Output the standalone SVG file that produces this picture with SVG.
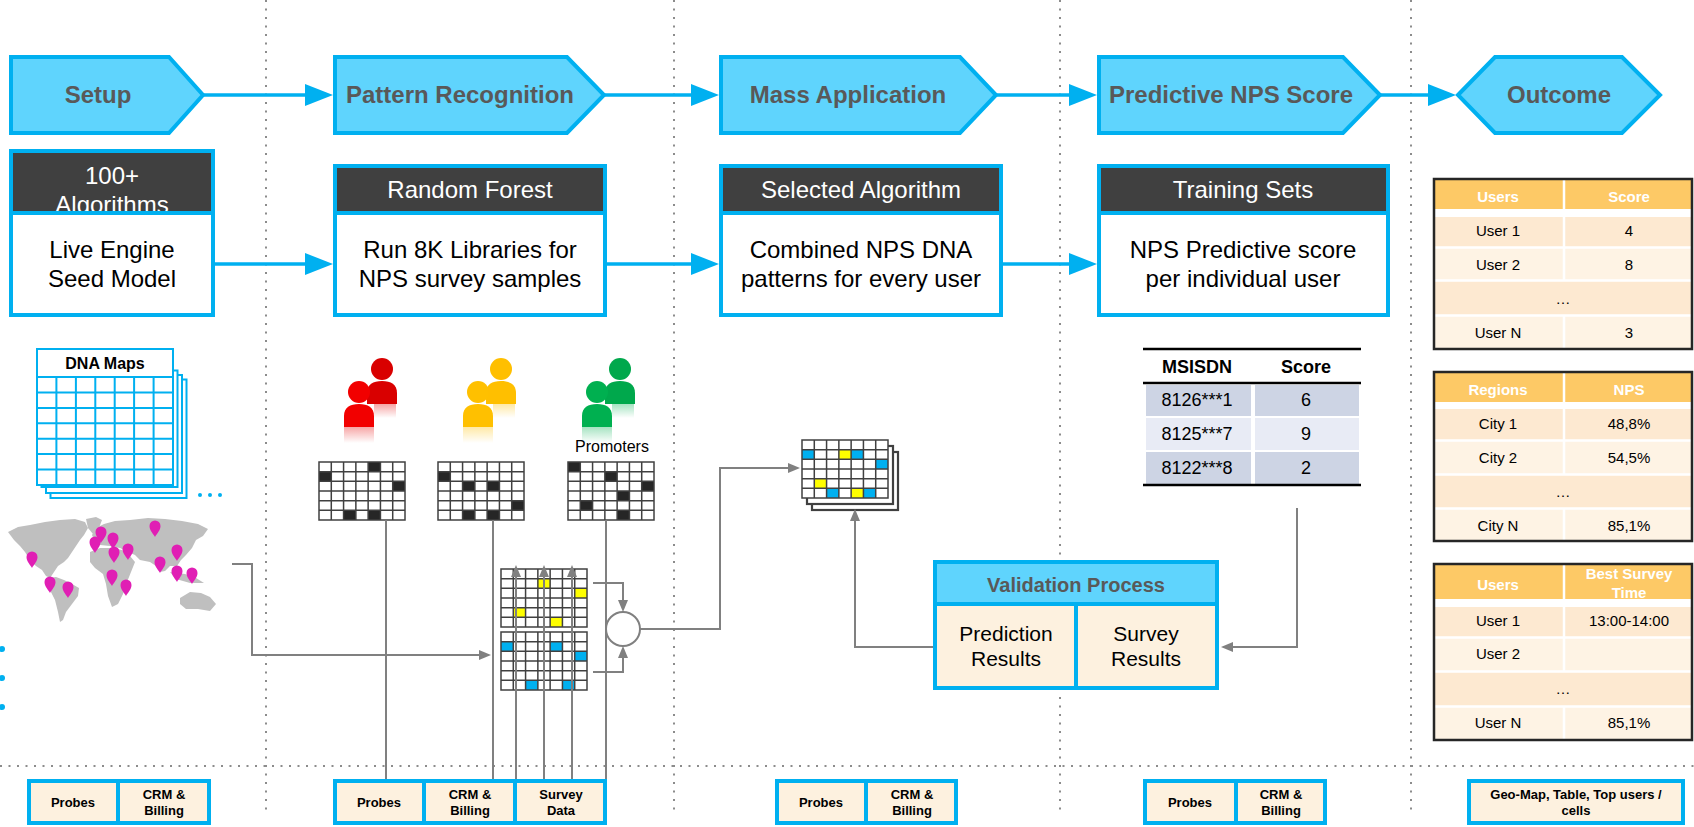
<svg xmlns="http://www.w3.org/2000/svg" width="1694" height="827" viewBox="0 0 1694 827">
<style>
text{font-family:"Liberation Sans",Arial,Helvetica,sans-serif}
.stage{fill:#5fd4fd;stroke:#00b0f0;stroke-width:4}
.stage-t{font-size:24px;font-weight:bold;fill:#595959;text-anchor:middle}
.box{fill:#fff;stroke:#00b0f0;stroke-width:4}
.hdr{fill:#404040}
.sep{stroke:#00b0f0;stroke-width:4}
.hdr-t{font-size:24px;fill:#fff;text-anchor:middle}
.body-t{font-size:24px;fill:#000;text-anchor:middle}
.flow{stroke:#00b0f0;stroke-width:3.5;fill:none}
.dot{stroke:#8c8c8c;stroke-width:2;stroke-dasharray:2 6.5;fill:none}
.wire{stroke:#808080;stroke-width:2;fill:none}
.src{fill:#fdf1df;stroke:#00b0f0;stroke-width:4}
.src-t{font-size:13px;font-weight:bold;fill:#000;text-anchor:middle}
.gl{stroke:#404040;stroke-width:1.5;fill:none}
.gb{stroke:#404040;stroke-width:2.2;fill:#fff}
.blk{fill:#262626}
.yel{fill:#ffff00}
.cyn{fill:#00b0f0}
.dna{stroke:#00b0f0;stroke-width:2;fill:#fff}
.dnal{stroke:#00b0f0;stroke-width:2;fill:none}
.t-hd{fill:#fdc966}
.t-a{fill:#fde9d1}
.t-b{fill:#fef3e4}
.t-div{stroke:#fff;stroke-width:2.5}
.t-frame{fill:none;stroke:#262626;stroke-width:2.5}
.t-ht{font-size:15px;font-weight:bold;fill:#fff;text-anchor:middle}
.t-c{font-size:15px;fill:#000;text-anchor:middle}
.ms-h{font-size:18px;font-weight:bold;fill:#000;text-anchor:middle}
.ms-c{font-size:18px;fill:#000;text-anchor:middle}
.ms-rule{stroke:#000;stroke-width:2.5}
.land{fill:#bfbfbf}
.pin{fill:#e01fb4}
</style>
<defs>
  <marker id="bigArrow" viewBox="0 0 28 22" markerWidth="28" markerHeight="22" refX="14" refY="11" markerUnits="userSpaceOnUse" orient="auto">
    <path d="M0,0 L28,11 L0,22 Z" fill="#00b0f0"/>
  </marker>
  <marker id="smallArrow" viewBox="0 0 12 10" markerWidth="12" markerHeight="10" refX="6" refY="5" markerUnits="userSpaceOnUse" orient="auto">
    <path d="M0,0 L12,5 L0,10 Z" fill="#808080"/>
  </marker>
  <!-- 7 x 6 cell grid, 86 x 58 -->
  <g id="gridLines">
    <path class="gl" d="M12.29,0V58M24.57,0V58M36.86,0V58M49.14,0V58M61.43,0V58M73.71,0V58M0,9.67H86M0,19.33H86M0,29H86M0,38.67H86M0,48.33H86"/>
    <rect class="gl" x="0" y="0" width="86" height="58" stroke-width="2.2"/>
  </g>
  <rect id="cell" width="12.29" height="9.67"/>
  <g id="person">
    <ellipse cx="0" cy="0" rx="11" ry="11"/>
    <path d="M-15,35 V24 C-15,15.5 -9,12 0,12 C9,12 15,15.5 15,24 V35 Z"/>
  </g>
  <path id="pinShape" d="M0,11 C-1.5,8 -5.5,4.5 -5.5,0 A5.5,5.5 0 1 1 5.5,0 C5.5,4.5 1.5,8 0,11 Z"/>
  <linearGradient id="fadeRed" x1="0" y1="0" x2="0" y2="1"><stop offset="0" stop-color="#e60000" stop-opacity="0.35"/><stop offset="1" stop-color="#e60000" stop-opacity="0"/></linearGradient>
  <linearGradient id="fadeYellow" x1="0" y1="0" x2="0" y2="1"><stop offset="0" stop-color="#ffc000" stop-opacity="0.35"/><stop offset="1" stop-color="#ffc000" stop-opacity="0"/></linearGradient>
  <linearGradient id="fadeGreen" x1="0" y1="0" x2="0" y2="1"><stop offset="0" stop-color="#00b050" stop-opacity="0.35"/><stop offset="1" stop-color="#00b050" stop-opacity="0"/></linearGradient>
  <clipPath id="clipAlgo"><rect x="13" y="153" width="198" height="58"/></clipPath>
  <clipPath id="clipTime"><rect x="1566" y="564" width="126" height="35"/></clipPath>
</defs>

<rect width="1694" height="827" fill="#fff"/>

<!-- lane separators -->
<g id="lanes">
  <path class="dot" d="M266,0V810M674,0V810M1060,0V555M1060,697V810M1411,0V810"/>
  <path class="dot" d="M0,766H1694"/>
</g>

<!-- stage banners -->
<g id="stage-setup"><polygon class="stage" points="11,57 169,57 203,95 169,133 11,133"/><text class="stage-t" x="98" y="103">Setup</text></g>
<g id="stage-pattern"><polygon class="stage" points="335,57 567,57 604,95 567,133 335,133"/><text class="stage-t" x="460" y="103">Pattern Recognition</text></g>
<g id="stage-mass"><polygon class="stage" points="721,57 960,57 996,95 960,133 721,133"/><text class="stage-t" x="848" y="103">Mass Application</text></g>
<g id="stage-predictive"><polygon class="stage" points="1099,57 1343,57 1380,95 1343,133 1099,133"/><text class="stage-t" x="1231" y="103">Predictive NPS Score</text></g>
<g id="stage-outcome"><polygon class="stage" points="1458,95 1495,57 1622,57 1660,95 1622,133 1495,133"/><text class="stage-t" x="1559" y="103">Outcome</text></g>

<!-- step boxes -->
<g id="box-seed">
  <rect class="box" x="11" y="151" width="202" height="164"/>
  <rect class="hdr" x="13" y="153" width="198" height="58"/>
  <g clip-path="url(#clipAlgo)"><text class="hdr-t" x="112" y="184" font-size="22">100+</text><text class="hdr-t" x="112" y="213" font-size="22">Algorithms</text></g>
  <line class="sep" x1="11" y1="213" x2="213" y2="213"/>
  <text class="body-t" x="112" y="258">Live Engine</text>
  <text class="body-t" x="112" y="287">Seed Model</text>
</g>
<g id="box-forest">
  <rect class="box" x="335" y="166" width="270" height="149"/>
  <rect class="hdr" x="337" y="168" width="266" height="43"/>
  <line class="sep" x1="335" y1="213" x2="605" y2="213"/>
  <text class="hdr-t" x="470" y="198">Random Forest</text>
  <text class="body-t" x="470" y="258">Run 8K Libraries for</text>
  <text class="body-t" x="470" y="287">NPS survey samples</text>
</g>
<g id="box-selected">
  <rect class="box" x="721" y="166" width="280" height="149"/>
  <rect class="hdr" x="723" y="168" width="276" height="43"/>
  <line class="sep" x1="721" y1="213" x2="1001" y2="213"/>
  <text class="hdr-t" x="861" y="198">Selected Algorithm</text>
  <text class="body-t" x="861" y="258">Combined NPS DNA</text>
  <text class="body-t" x="861" y="287">patterns for every user</text>
</g>
<g id="box-training">
  <rect class="box" x="1099" y="166" width="289" height="149"/>
  <rect class="hdr" x="1101" y="168" width="285" height="43"/>
  <line class="sep" x1="1099" y1="213" x2="1388" y2="213"/>
  <text class="hdr-t" x="1243" y="198">Training Sets</text>
  <text class="body-t" x="1243" y="258">NPS Predictive score</text>
  <text class="body-t" x="1243" y="287">per individual user</text>
</g>

<!-- DNA maps stack -->
<g id="dna-maps">
  <rect class="dna" x="50.5" y="379.5" width="136" height="118.5"/>
  <rect class="dna" x="46" y="375" width="136" height="118"/>
  <rect class="dna" x="41.5" y="370.5" width="136" height="116.5"/>
  <rect class="dna" x="37" y="349" width="136" height="136"/>
  <line class="dnal" x1="37" y1="377" x2="173" y2="377"/>
  <path class="dnal" d="M56.4,377V485M75.9,377V485M95.3,377V485M114.7,377V485M134.1,377V485M153.6,377V485M37,392.4H173M37,407.9H173M37,423.3H173M37,438.7H173M37,454.1H173M37,469.6H173"/>
  <text x="105" y="369" font-size="16" font-weight="bold" text-anchor="middle">DNA Maps</text>
  <circle cx="200" cy="495" r="2" fill="#00b0f0"/>
  <circle cx="210" cy="495" r="2" fill="#00b0f0"/>
  <circle cx="220" cy="495" r="2" fill="#00b0f0"/>
</g>

<!-- world map with site pins -->
<g id="world-map">
  <path class="land" d="M8,532 L18,527 L30,525 L45,522 L60,520 L75,519 L85,522 L88,528 L84,535 L80,540 L76,546 L72,552 L68,558 L64,562 L58,566 L54,572 L50,578 L46,576 L42,570 L36,566 L30,560 L25,552 L20,546 L14,540 Z"/>
  <path class="land" d="M86,519 L96,517 L102,520 L99,528 L93,534 L88,528 Z"/>
  <path class="land" d="M48,578 L56,577 L64,580 L72,584 L79,588 L78,596 L72,604 L66,612 L63,620 L60,622 L58,612 L55,600 L50,590 Z"/>
  <path class="land" d="M92,535 L96,528 L104,524 L115,521 L130,520 L148,518 L165,519 L182,521 L198,524 L208,529 L203,536 L196,540 L192,548 L186,555 L181,560 L177,566 L170,566 L165,571 L160,572 L156,566 L150,562 L140,560 L135,555 L128,552 L120,548 L110,546 L100,545 L95,542 Z"/>
  <path class="land" d="M90,552 L100,548 L112,548 L122,550 L130,556 L135,562 L131,572 L127,582 L123,594 L118,604 L112,607 L108,596 L106,584 L103,574 L95,568 L90,562 Z"/>
  <path class="land" d="M170,572 L185,574 L196,578 L204,583 L190,583 L176,579 Z"/>
  <path class="land" d="M180,598 L190,592 L201,593 L210,597 L216,604 L210,611 L198,609 L186,609 L180,604 Z"/>
  <g class="pin">
    <use href="#pinShape" x="32" y="557"/><use href="#pinShape" x="50" y="582"/><use href="#pinShape" x="68" y="587"/>
    <use href="#pinShape" x="101" y="532"/><use href="#pinShape" x="95" y="542"/><use href="#pinShape" x="113" y="538"/>
    <use href="#pinShape" x="114" y="552"/><use href="#pinShape" x="128" y="549"/><use href="#pinShape" x="112" y="575"/>
    <use href="#pinShape" x="126" y="585"/><use href="#pinShape" x="155" y="526"/><use href="#pinShape" x="177" y="550"/>
    <use href="#pinShape" x="160" y="562"/><use href="#pinShape" x="177" y="571"/><use href="#pinShape" x="192" y="573"/>
  </g>
  <circle cx="2" cy="649" r="3" fill="#00b0f0"/>
  <circle cx="2" cy="678" r="3" fill="#00b0f0"/>
  <circle cx="2" cy="707" r="3" fill="#00b0f0"/>
</g>

<!-- customer groups -->
<g id="group-detractors">
  <use href="#person" x="382" y="369" fill="#d90000"/>
  <use href="#person" x="359" y="392" fill="#f20000"/>
  <rect x="344" y="427" width="30" height="16" fill="url(#fadeRed)"/>
  <rect x="374" y="404" width="22" height="14" fill="url(#fadeRed)"/>
</g>
<g id="group-passives">
  <use href="#person" x="501" y="369" fill="#ffbf00"/>
  <use href="#person" x="478" y="392" fill="#ffc000"/>
  <rect x="463" y="427" width="30" height="16" fill="url(#fadeYellow)"/>
  <rect x="493" y="404" width="22" height="14" fill="url(#fadeYellow)"/>
</g>
<g id="group-promoters">
  <use href="#person" x="620" y="369" fill="#00a84c"/>
  <use href="#person" x="597" y="392" fill="#00b050"/>
  <rect x="582" y="427" width="30" height="16" fill="url(#fadeGreen)"/>
  <rect x="612" y="404" width="22" height="14" fill="url(#fadeGreen)"/>
  <text x="612" y="452" font-size="16" text-anchor="middle">Promoters</text>
</g>

<!-- segment patterns -->
<g id="grid-detractors" transform="translate(319,462)">
  <rect width="86" height="58" fill="#fff"/>
  <g class="blk"><use href="#cell" x="49.14" y="0"/><use href="#cell" x="0" y="9.67"/><use href="#cell" x="73.71" y="19.33"/><use href="#cell" x="24.57" y="48.33"/><use href="#cell" x="49.14" y="48.33"/></g>
  <use href="#gridLines"/>
</g>
<g id="grid-passives" transform="translate(438,462)">
  <rect width="86" height="58" fill="#fff"/>
  <g class="blk"><use href="#cell" x="0" y="9.67"/><use href="#cell" x="24.57" y="19.33"/><use href="#cell" x="49.14" y="19.33"/><use href="#cell" x="73.71" y="38.67"/><use href="#cell" x="24.57" y="48.33"/><use href="#cell" x="49.14" y="48.33"/></g>
  <use href="#gridLines"/>
</g>
<g id="grid-promoters" transform="translate(568,462)">
  <rect width="86" height="58" fill="#fff"/>
  <g class="blk"><use href="#cell" x="0" y="0"/><use href="#cell" x="36.86" y="9.67"/><use href="#cell" x="73.71" y="19.33"/><use href="#cell" x="49.14" y="29"/><use href="#cell" x="12.29" y="38.67"/><use href="#cell" x="49.14" y="48.33"/></g>
  <use href="#gridLines"/>
</g>
<g id="grid-upper" transform="translate(501,569)">
  <rect width="86" height="58" fill="#fff"/>
  <g class="yel"><use href="#cell" x="36.86" y="9.67"/><use href="#cell" x="73.71" y="19.33"/><use href="#cell" x="12.29" y="38.67"/><use href="#cell" x="49.14" y="48.33"/></g>
  <use href="#gridLines"/>
</g>
<g id="grid-lower" transform="translate(501,632)">
  <rect width="86" height="58" fill="#fff"/>
  <g class="cyn"><use href="#cell" x="0" y="9.67"/><use href="#cell" x="49.14" y="9.67"/><use href="#cell" x="73.71" y="19.33"/><use href="#cell" x="24.57" y="48.33"/><use href="#cell" x="61.43" y="48.33"/></g>
  <use href="#gridLines"/>
</g>
<g id="combiner"><circle cx="623" cy="629" r="17" fill="#fff" stroke="#808080" stroke-width="2"/></g>
<g id="grid-combined">
  <rect class="gb" x="812" y="452" width="86" height="58"/>
  <rect class="gb" x="807" y="446" width="86" height="58"/>
  <g transform="translate(802,440)">
    <rect width="86" height="58" fill="#fff"/>
    <g class="cyn"><use href="#cell" x="0" y="9.67"/><use href="#cell" x="49.14" y="9.67"/><use href="#cell" x="73.71" y="19.33"/><use href="#cell" x="24.57" y="48.33"/><use href="#cell" x="61.43" y="48.33"/></g>
    <g class="yel"><use href="#cell" x="36.86" y="9.67"/><use href="#cell" x="12.29" y="38.67"/><use href="#cell" x="49.14" y="48.33"/></g>
    <use href="#gridLines"/>
  </g>
</g>

<!-- scored subscribers -->
<g id="msisdn-table">
  <rect x="1146" y="385" width="105" height="31" fill="#cdd4e4"/><rect x="1255" y="385" width="104" height="31" fill="#cdd4e4"/>
  <rect x="1146" y="418" width="105" height="32" fill="#e8ebf5"/><rect x="1255" y="418" width="104" height="32" fill="#e8ebf5"/>
  <rect x="1146" y="452" width="105" height="32" fill="#cdd4e4"/><rect x="1255" y="452" width="104" height="32" fill="#cdd4e4"/>
  <line class="ms-rule" x1="1143" y1="349" x2="1361" y2="349"/>
  <line class="ms-rule" x1="1143" y1="383" x2="1361" y2="383"/>
  <line class="ms-rule" x1="1143" y1="485" x2="1361" y2="485"/>
  <text class="ms-h" x="1197" y="373">MSISDN</text><text class="ms-h" x="1306" y="373">Score</text>
  <text class="ms-c" x="1197" y="406">8126***1</text><text class="ms-c" x="1306" y="406">6</text>
  <text class="ms-c" x="1197" y="440">8125***7</text><text class="ms-c" x="1306" y="440">9</text>
  <text class="ms-c" x="1197" y="474">8122***8</text><text class="ms-c" x="1306" y="474">2</text>
</g>

<!-- validation -->
<g id="validation">
  <rect class="src" x="935" y="562" width="282" height="126"/>
  <rect x="937" y="564" width="278" height="38" fill="#5fd4fd"/>
  <line class="sep" x1="935" y1="604" x2="1217" y2="604"/>
  <line class="sep" x1="1076" y1="604" x2="1076" y2="688"/>
  <text x="1076" y="592" font-size="20" font-weight="bold" fill="#595959" text-anchor="middle">Validation Process</text>
  <text x="1006" y="641" font-size="21" text-anchor="middle">Prediction</text>
  <text x="1006" y="666" font-size="21" text-anchor="middle">Results</text>
  <text x="1146" y="641" font-size="21" text-anchor="middle">Survey</text>
  <text x="1146" y="666" font-size="21" text-anchor="middle">Results</text>
</g>

<!-- outcome tables -->
<g id="table-user-score">
  <rect class="t-hd" x="1434" y="179" width="258" height="30"/>
  <rect class="t-a" x="1434" y="217" width="258" height="30"/>
  <rect class="t-b" x="1434" y="248" width="258" height="32"/>
  <rect class="t-a" x="1434" y="281" width="258" height="34"/>
  <rect class="t-b" x="1434" y="316" width="258" height="33"/>
  <path class="t-div" d="M1564,179V281M1564,315V349M1434,247.5H1692M1434,280.5H1692M1434,315.5H1692"/>
  <path class="t-frame" d="M1434,179H1692V349H1434Z"/>
  <text class="t-ht" x="1498" y="202">Users</text><text class="t-ht" x="1629" y="202">Score</text>
  <text class="t-c" x="1498" y="236">User 1</text><text class="t-c" x="1629" y="236">4</text>
  <text class="t-c" x="1498" y="270">User 2</text><text class="t-c" x="1629" y="270">8</text>
  <text class="t-c" x="1563" y="304">…</text>
  <text class="t-c" x="1498" y="338">User N</text><text class="t-c" x="1629" y="338">3</text>
</g>
<g id="table-region-nps">
  <rect class="t-hd" x="1434" y="372" width="258" height="30"/>
  <rect class="t-a" x="1434" y="409" width="258" height="31"/>
  <rect class="t-b" x="1434" y="441" width="258" height="33"/>
  <rect class="t-a" x="1434" y="475" width="258" height="33"/>
  <rect class="t-b" x="1434" y="509" width="258" height="32"/>
  <path class="t-div" d="M1564,372V474M1564,508V541M1434,440.5H1692M1434,474.5H1692M1434,508.5H1692"/>
  <path class="t-frame" d="M1434,372H1692V541H1434Z"/>
  <text class="t-ht" x="1498" y="395">Regions</text><text class="t-ht" x="1629" y="395">NPS</text>
  <text class="t-c" x="1498" y="429">City 1</text><text class="t-c" x="1629" y="429">48,8%</text>
  <text class="t-c" x="1498" y="463">City 2</text><text class="t-c" x="1629" y="463">54,5%</text>
  <text class="t-c" x="1563" y="497">…</text>
  <text class="t-c" x="1498" y="531">City N</text><text class="t-c" x="1629" y="531">85,1%</text>
</g>
<g id="table-survey-time">
  <rect class="t-hd" x="1434" y="564" width="258" height="35"/>
  <rect class="t-a" x="1434" y="607" width="258" height="30"/>
  <rect class="t-b" x="1434" y="638" width="258" height="33"/>
  <rect class="t-a" x="1434" y="672" width="258" height="34"/>
  <rect class="t-b" x="1434" y="707" width="258" height="33"/>
  <path class="t-div" d="M1564,564V672M1564,706V740M1434,637.5H1692M1434,671.5H1692M1434,706.5H1692"/>
  <path class="t-frame" d="M1434,564H1692V740H1434Z"/>
  <text class="t-ht" x="1498" y="590">Users</text>
  <g clip-path="url(#clipTime)"><text class="t-ht" x="1629" y="579">Best Survey</text><text class="t-ht" x="1629" y="598">Time</text></g>
  <text class="t-c" x="1498" y="626">User 1</text><text class="t-c" x="1629" y="626">13:00-14:00</text>
  <text class="t-c" x="1498" y="659">User 2</text>
  <text class="t-c" x="1563" y="694">…</text>
  <text class="t-c" x="1498" y="728">User N</text><text class="t-c" x="1629" y="728">85,1%</text>
</g>

<!-- data sources -->
<g id="src-setup">
  <rect class="src" x="29" y="781" width="180" height="42"/>
  <line class="sep" x1="118" y1="781" x2="118" y2="823"/>
  <text class="src-t" x="73" y="807">Probes</text>
  <text class="src-t" x="164" y="799">CRM &amp;</text><text class="src-t" x="164" y="815">Billing</text>
</g>
<g id="src-pattern">
  <rect class="src" x="335" y="781" width="270" height="42"/>
  <line class="sep" x1="424" y1="781" x2="424" y2="823"/>
  <line class="sep" x1="515" y1="781" x2="515" y2="823"/>
  <text class="src-t" x="379" y="807">Probes</text>
  <text class="src-t" x="470" y="799">CRM &amp;</text><text class="src-t" x="470" y="815">Billing</text>
  <text class="src-t" x="561" y="799">Survey</text><text class="src-t" x="561" y="815">Data</text>
</g>
<g id="src-mass">
  <rect class="src" x="777" y="781" width="179" height="42"/>
  <line class="sep" x1="866" y1="781" x2="866" y2="823"/>
  <text class="src-t" x="821" y="807">Probes</text>
  <text class="src-t" x="912" y="799">CRM &amp;</text><text class="src-t" x="912" y="815">Billing</text>
</g>
<g id="src-predictive">
  <rect class="src" x="1145" y="781" width="180" height="42"/>
  <line class="sep" x1="1236" y1="781" x2="1236" y2="823"/>
  <text class="src-t" x="1190" y="807">Probes</text>
  <text class="src-t" x="1281" y="799">CRM &amp;</text><text class="src-t" x="1281" y="815">Billing</text>
</g>
<g id="src-outcome">
  <rect class="src" x="1469" y="781" width="214" height="42"/>
  <text class="src-t" x="1576" y="799">Geo-Map, Table, Top users /</text>
  <text class="src-t" x="1576" y="815">cells</text>
</g>

<!-- connectors -->
<g id="connectors">
  <g class="flow" marker-end="url(#bigArrow)">
    <path d="M203,95H319"/>
    <path d="M604,95H705"/>
    <path d="M996,95H1083"/>
    <path d="M1380,95H1442"/>
    <path d="M213,264H319"/>
    <path d="M605,264H705"/>
    <path d="M1001,264H1083"/>
  </g>
  <g class="wire">
    <path d="M386,520V779"/>
    <path d="M493,520V779"/>
    <path d="M606,520V779"/>
  </g>
  <g class="wire" marker-end="url(#smallArrow)">
    <path d="M232,564H252V655H485"/>
    <path d="M516,779V571"/>
    <path d="M544,779V571"/>
    <path d="M572,779V571"/>
    <path d="M593,583H623V606"/>
    <path d="M593,672H623V652"/>
    <path d="M640,629H720V468H794"/>
    <path d="M933,647H855V515"/>
    <path d="M1297,508V647H1227"/>
  </g>
</g>
</svg>
